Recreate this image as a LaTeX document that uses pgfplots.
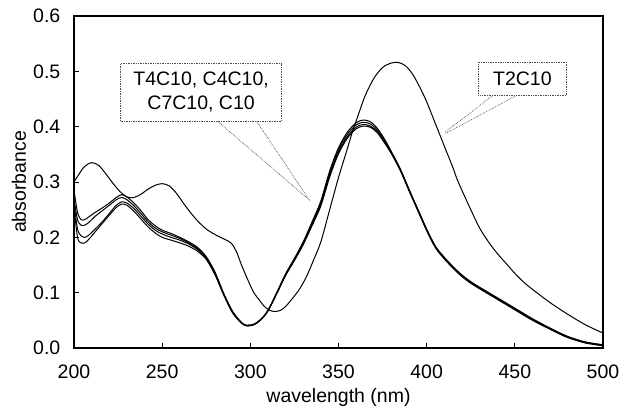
\documentclass[border=0pt]{standalone}
\usepackage{pgfplots}
\pgfplotsset{compat=1.18}
\usepackage{pgfplotstable}
\usepackage{fontspec}
\setmainfont{Liberation Sans}

\pgfplotstableread{
x     y
200 0.300
203 0.315
206 0.328
210 0.335
214 0.330
218 0.315
222 0.298
226 0.283
230 0.273
234 0.272
238 0.278
242 0.287
246 0.294
250 0.297
254 0.293
258 0.280
262 0.262
266 0.245
270 0.230
275 0.215
280 0.205
285 0.197
289 0.190
292 0.175
295 0.150
299 0.120
302 0.100
305 0.087
308 0.075
311 0.068
314 0.066
317 0.068
320 0.075
324 0.090
328 0.107
332 0.130
336 0.160
340 0.192
345 0.250
350 0.308
355 0.360
358 0.392
360 0.410
365 0.455
370 0.487
375 0.507
380 0.515
384 0.516
388 0.510
392 0.495
396 0.472
400 0.445
405 0.405
410 0.365
415 0.325
417 0.307
420 0.285
425 0.250
430 0.217
435 0.192
440 0.171
445 0.153
450 0.135
455 0.119
460 0.106
470 0.082
480 0.061
490 0.042
500 0.027
}\TtwoCten

\pgfplotstableread{
x     a     b     c     d
200 0.285 0.270 0.262 0.255
202 0.245 0.232 0.215 0.200
204 0.232 0.222 0.203 0.190
206 0.232 0.222 0.200 0.190
208 0.236 0.226 0.203 0.195
212 0.245 0.238 0.215 0.210
216 0.253 0.248 0.228 0.225
220 0.262 0.258 0.243 0.240
224 0.272 0.268 0.258 0.254
227 0.277 0.272 0.264 0.260
230 0.273 0.268 0.262 0.258
234 0.262 0.257 0.252 0.247
238 0.248 0.243 0.238 0.233
242 0.232 0.228 0.224 0.219
246 0.221 0.217 0.213 0.208
250 0.213 0.210 0.206 0.200
255 0.207 0.204 0.200 0.195
260 0.200 0.198 0.195 0.190
265 0.192 0.190 0.188 0.184
270 0.182 0.180 0.178 0.175
275 0.165 0.164 0.162 0.160
280 0.137 0.135 0.134 0.132
285 0.098 0.097 0.096 0.095
290 0.066 0.065 0.064 0.063
295 0.046 0.046 0.045 0.045
298 0.041 0.041 0.040 0.040
302 0.043 0.043 0.042 0.042
306 0.052 0.052 0.051 0.051
310 0.068 0.068 0.067 0.067
315 0.100 0.100 0.099 0.098
320 0.134 0.133 0.132 0.131
325 0.162 0.160 0.159 0.158
330 0.192 0.190 0.188 0.187
335 0.228 0.225 0.223 0.221
340 0.266 0.263 0.260 0.257
345 0.320 0.316 0.312 0.309
350 0.362 0.358 0.354 0.351
355 0.390 0.386 0.382 0.379
360 0.407 0.403 0.399 0.396
364 0.412 0.408 0.404 0.401
368 0.409 0.405 0.401 0.399
372 0.397 0.394 0.391 0.389
376 0.378 0.376 0.373 0.371
380 0.355 0.353 0.352 0.351
385 0.324 0.323 0.322 0.321
390 0.287 0.286 0.285 0.284
395 0.251 0.250 0.249 0.248
400 0.215 0.214 0.213 0.212
405 0.184 0.183 0.182 0.181
410 0.164 0.163 0.162 0.161
415 0.147 0.146 0.145 0.144
420 0.132 0.131 0.130 0.129
425 0.120 0.119 0.118 0.117
430 0.110 0.109 0.108 0.107
440 0.091 0.090 0.089 0.088
450 0.072 0.071 0.070 0.069
460 0.053 0.052 0.051 0.050
470 0.036 0.035 0.034 0.034
480 0.021 0.020 0.019 0.019
490 0.011 0.010 0.010 0.009
500 0.006 0.005 0.005 0.004
}\Group

\begin{document}
\fontsize{19.5}{23}\selectfont
\begin{tikzpicture}
\begin{axis}[
  width=529pt, height=332pt, scale only axis,
  xmin=200, xmax=500, ymin=0, ymax=0.6,
  xtick={200,250,300,350,400,450,500},
  ytick={0,0.1,0.2,0.3,0.4,0.5,0.6},
  tick align=inside, xtick pos=bottom, ytick pos=left,
  major tick length=5pt,
  axis line style={line width=1.1pt},
  tick style={line width=0.9pt, black},
  /pgf/number format/assume math mode=true,
  yticklabel style={xshift=-7pt, /pgf/number format/fixed, /pgf/number format/fixed zerofill, /pgf/number format/precision=1},
  xticklabel style={yshift=-10pt, /pgf/number format/1000 sep={}},
  xlabel={wavelength (nm)}, ylabel={absorbance},
  xlabel style={at={(axis description cs:0.5,-0.163)}, anchor=base},
  ylabel style={at={(axis description cs:-0.104,0.5)}, anchor=center},
  clip=true,
]
\addplot[black, no markers, line width=1pt, smooth, tension=0.5] table[x=x, y=y] {\TtwoCten};
\addplot[black, no markers, line width=1pt, smooth, tension=0.5] table[x=x, y=a] {\Group};
\addplot[black, no markers, line width=1pt, smooth, tension=0.5] table[x=x, y=b] {\Group};
\addplot[black, no markers, line width=1pt, smooth, tension=0.5] table[x=x, y=c] {\Group};
\addplot[black, no markers, line width=1pt, smooth, tension=0.5] table[x=x, y=d] {\Group};

\draw[densely dotted, gray!60!black, line width=0.7pt] (axis cs:280.6,0.412) -- (axis cs:333.3,0.268);
\draw[densely dotted, gray!60!black, line width=0.7pt] (axis cs:303.1,0.412) -- (axis cs:334.2,0.264);
\draw[densely dotted, gray!60!black, line width=0.7pt] (axis cs:437.6,0.4565) -- (axis cs:410.4,0.390);
\draw[densely dotted, gray!60!black, line width=0.7pt] (axis cs:451.1,0.4565) -- (axis cs:410.9,0.388);

\node[draw=gray!60!black, densely dotted, line width=0.7pt, fill=white, align=center,
      minimum width=161pt, minimum height=58pt, inner sep=2pt, font=\fontsize{19.5}{24}\selectfont]
  at (axis cs:272.1,0.4625) {T4C10, C4C10,\\C7C10, C10};
\node[draw=gray!60!black, densely dotted, line width=0.7pt, fill=white, align=center,
      minimum width=88pt, minimum height=33pt, inner sep=2pt, font=\fontsize{19.5}{23}\selectfont]
  at (axis cs:454.3,0.4865) {T2C10};
\end{axis}
\pgfresetboundingbox
\path[use as bounding box] ([xshift=-74pt,yshift=-61pt]current axis.south west) rectangle ++(621pt,409pt);
\end{tikzpicture}
\end{document}
